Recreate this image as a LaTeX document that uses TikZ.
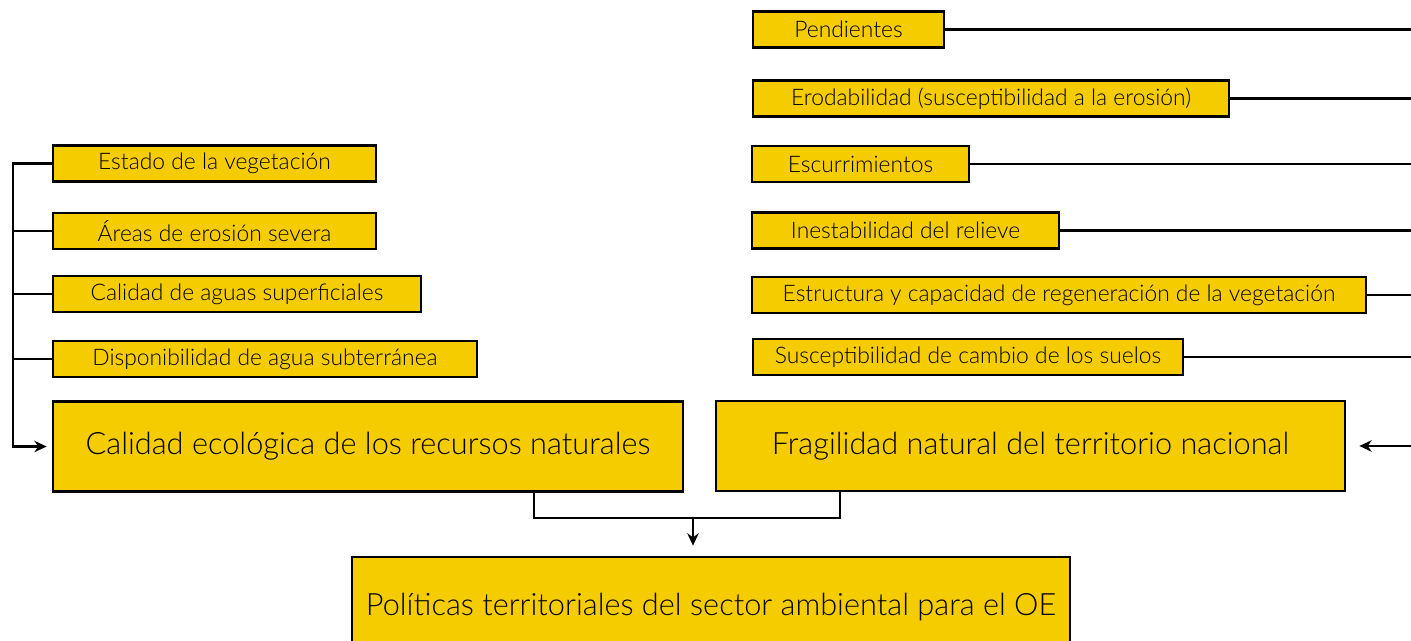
\documentclass[tikz,border=0pt]{standalone}
\usepackage{fontspec}
\setmainfont{Lato Light}
\usetikzlibrary{arrows.meta,positioning}
\definecolor{boxyellow}{RGB}{245,204,0}

\begin{document}
\begin{tikzpicture}[x=0.02cm, y=-0.02cm,
    sbox/.style={rectangle, draw, line width=1.6pt, fill=boxyellow, inner sep=0pt,
        minimum height=0.72cm, font=\fontsize{13}{15}\selectfont},
    bbox/.style={sbox, minimum height=1.8cm, font=\fontsize{17.5}{21}\selectfont},
    conn/.style={line width=1.4pt},
    tip/.style={-{Stealth[length=7pt,width=6.5pt]}}]
    \useasboundingbox (0,0) rectangle (1411,640);

    %% Left column
    \node[sbox, minimum width=6.46cm] (estado) at (214.5,163.5) {Estado de la vegetación};
    \node[sbox, minimum width=6.46cm] (areas) at (214.5,231) {Áreas de erosión severa};
    \node[sbox, minimum width=7.36cm] (aguas) at (237,294) {Calidad de aguas superficiales};
    \node[sbox, minimum width=8.48cm] (subte) at (265,359) {Disponibilidad de agua subterránea};
    \node[bbox, minimum width=12.6cm] (caleco) at (368,446.5) {Calidad ecológica de los recursos naturales};

    %% Right column
    \node[sbox, minimum width=3.82cm] (pend) at (848.5,29.5) {Pendientes};
    \node[sbox, minimum width=9.52cm] (erod) at (991,98.5) {Erodabilidad (susceptibilidad a la erosión)};
    \node[sbox, minimum width=4.34cm] (escurr) at (860.5,164) {Escurrimientos};
    \node[sbox, minimum width=6.14cm] (inest) at (905.5,230.5) {Inestabilidad del relieve};
    \node[sbox, minimum width=12.28cm] (estruct) at (1059,295) {Estructura y capacidad de regeneración de la vegetación};
    \node[sbox, minimum width=8.6cm] (suscept) at (968,357) {Susceptibilidad de cambio de los suelos};
    \node[bbox, minimum width=12.58cm] (fragil) at (1030.5,446) {Fragilidad natural del territorio nacional};

    %% Result
    \node[bbox, minimum width=14.36cm, minimum height=2cm] (polit) at (711,607) {Políticas territoriales del sector ambiental para el OE};

    %% Connectors
    \coordinate (lbus) at (13,0);
    \coordinate (redge) at (1411,0);
    \coordinate (jl) at (534,518);
    \coordinate (jr) at (840,518);
    \coordinate (jm) at (693,518);

    \draw[conn, tip, shorten >=0.1cm] (estado.west) -- (estado.west -| lbus) |- (caleco.west);
    \draw[conn] (areas.west) -- (areas.west -| lbus);
    \draw[conn] (aguas.west) -- (aguas.west -| lbus);
    \draw[conn] (subte.west) -- (subte.west -| lbus);

    \draw[conn] (pend.east) -- (pend.east -| redge);
    \draw[conn] (erod.east) -- (erod.east -| redge);
    \draw[conn] (escurr.east) -- (escurr.east -| redge);
    \draw[conn] (inest.east) -- (inest.east -| redge);
    \draw[conn] (estruct.east) -- (estruct.east -| redge);
    \draw[conn] (suscept.east) -- (suscept.east -| redge);
    \draw[conn, tip, shorten >=0.26cm] (fragil.east -| redge) -- (fragil.east);

    \draw[conn] (caleco.south -| jl) -- (jl) -- (jr) -- (fragil.south -| jr);
    \draw[conn, tip, shorten >=0.2cm] (jm) -- (polit.north -| jm);
\end{tikzpicture}
\end{document}
